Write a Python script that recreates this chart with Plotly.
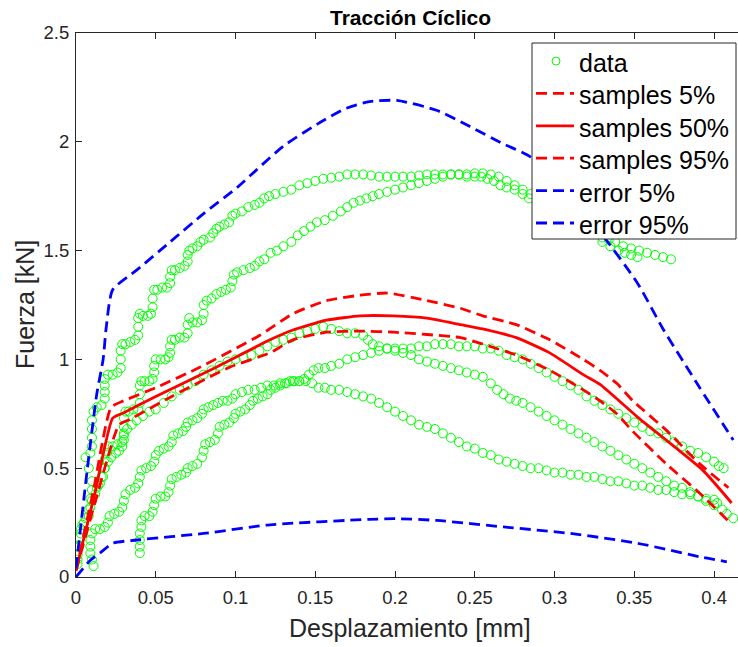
import plotly.graph_objects as go

# ---------------- data ----------------
# upper specimen, first curve
c1_x = [0.001, 0.002, 0.003, 0.005, 0.008, 0.009, 0.009, 0.010, 0.010, 0.008, 0.006, 0.009, 0.010, 0.010, 0.010,
        0.010, 0.011, 0.013, 0.016, 0.018, 0.018, 0.018, 0.018, 0.020, 0.023, 0.026, 0.028, 0.028, 0.028, 0.029,
        0.031, 0.034, 0.037, 0.039, 0.039, 0.039, 0.040, 0.042, 0.045, 0.047, 0.048, 0.048, 0.049, 0.051, 0.054,
        0.057, 0.059, 0.059, 0.060, 0.062, 0.065, 0.068, 0.070, 0.070, 0.071, 0.073, 0.076, 0.078, 0.080, 0.084,
        0.086, 0.088, 0.090, 0.093, 0.096, 0.098, 0.100, 0.104, 0.108, 0.112, 0.115, 0.118, 0.121, 0.125, 0.130,
        0.135, 0.140, 0.145, 0.150, 0.155, 0.160, 0.165, 0.170, 0.175, 0.180, 0.185, 0.190, 0.195, 0.200, 0.205,
        0.210, 0.215, 0.220, 0.225, 0.230, 0.235, 0.240, 0.245, 0.250, 0.255, 0.260, 0.265, 0.270, 0.275, 0.280,
        0.285, 0.290, 0.300, 0.310, 0.320, 0.330, 0.334, 0.338, 0.343, 0.348, 0.353, 0.358, 0.363, 0.368, 0.373]
c1_y = [0.08, 0.14, 0.20, 0.25, 0.28, 0.32, 0.36, 0.40, 0.44, 0.50, 0.55, 0.57, 0.60, 0.64, 0.68,
        0.72, 0.76, 0.78, 0.79, 0.82, 0.85, 0.88, 0.91, 0.93, 0.93, 0.94, 0.96, 1.00, 1.04, 1.07,
        1.07, 1.08, 1.09, 1.11, 1.15, 1.19, 1.21, 1.20, 1.20, 1.21, 1.24, 1.28, 1.32, 1.32, 1.33,
        1.33, 1.35, 1.38, 1.41, 1.41, 1.42, 1.43, 1.45, 1.48, 1.50, 1.51, 1.52, 1.54, 1.55, 1.56,
        1.58, 1.60, 1.61, 1.62, 1.63, 1.66, 1.67, 1.68, 1.70, 1.71, 1.72, 1.74, 1.75, 1.76, 1.77,
        1.78, 1.80, 1.81, 1.82, 1.83, 1.835, 1.84, 1.85, 1.85, 1.85, 1.845, 1.84, 1.84, 1.84, 1.84,
        1.84, 1.845, 1.85, 1.85, 1.85, 1.85, 1.85, 1.85, 1.855, 1.855, 1.85, 1.84, 1.82, 1.80, 1.78,
        1.76, 1.74, 1.70, 1.66, 1.62, 1.56, 1.55, 1.54, 1.52, 1.51, 1.50, 1.49, 1.48, 1.47, 1.46]

# upper specimen, second curve
c2_x = [0.013, 0.015, 0.017, 0.018, 0.018, 0.019, 0.020, 0.023, 0.026, 0.029, 0.030, 0.030, 0.030, 0.031, 0.033,
        0.036, 0.039, 0.040, 0.040, 0.040, 0.041, 0.043, 0.046, 0.048, 0.049, 0.049, 0.050, 0.053, 0.056, 0.058,
        0.059, 0.059, 0.060, 0.062, 0.065, 0.068, 0.070, 0.070, 0.071, 0.073, 0.076, 0.079, 0.080, 0.080, 0.082,
        0.085, 0.088, 0.091, 0.094, 0.097, 0.098, 0.099, 0.101, 0.105, 0.109, 0.112, 0.115, 0.118, 0.122, 0.126,
        0.130, 0.135, 0.139, 0.143, 0.147, 0.151, 0.156, 0.161, 0.166, 0.170, 0.174, 0.178, 0.182, 0.186, 0.190,
        0.195, 0.200, 0.205, 0.210, 0.215, 0.220, 0.225, 0.230, 0.235, 0.240, 0.245, 0.250, 0.254, 0.258, 0.262,
        0.266, 0.270, 0.275, 0.280, 0.284, 0.290, 0.300, 0.310, 0.320, 0.330, 0.335, 0.340, 0.344, 0.348, 0.352]
c2_y = [0.41, 0.43, 0.46, 0.50, 0.54, 0.57, 0.60, 0.60, 0.61, 0.62, 0.65, 0.69, 0.73, 0.76, 0.76,
        0.77, 0.77, 0.80, 0.84, 0.88, 0.90, 0.90, 0.90, 0.91, 0.94, 0.97, 1.00, 1.00, 1.00, 1.01,
        1.03, 1.06, 1.09, 1.09, 1.10, 1.10, 1.12, 1.16, 1.19, 1.17, 1.17, 1.18, 1.21, 1.25, 1.27,
        1.28, 1.30, 1.31, 1.32, 1.33, 1.36, 1.39, 1.40, 1.41, 1.42, 1.43, 1.45, 1.46, 1.49, 1.50,
        1.52, 1.54, 1.57, 1.59, 1.61, 1.63, 1.64, 1.66, 1.68, 1.70, 1.72, 1.73, 1.74, 1.75, 1.76,
        1.77, 1.78, 1.79, 1.80, 1.81, 1.82, 1.83, 1.84, 1.85, 1.85, 1.84, 1.84, 1.84, 1.83, 1.82,
        1.80, 1.79, 1.78, 1.76, 1.74, 1.72, 1.68, 1.64, 1.59, 1.54, 1.52, 1.50, 1.49, 1.48, 1.47]

# middle specimen (peak about 1.15 kN)
c3_x = [0.001, 0.001, 0.002, 0.002, 0.003, 0.004, 0.006, 0.008, 0.010, 0.012, 0.014, 0.016, 0.018, 0.020, 0.022,
        0.025, 0.027, 0.029, 0.030, 0.030, 0.032, 0.035, 0.038, 0.042, 0.046, 0.050, 0.055, 0.060, 0.065, 0.070,
        0.075, 0.080, 0.085, 0.090, 0.095, 0.100, 0.105, 0.110, 0.115, 0.120, 0.125, 0.130, 0.135, 0.140, 0.145,
        0.150, 0.155, 0.160, 0.165, 0.170, 0.175, 0.180, 0.183, 0.186, 0.190, 0.195, 0.200, 0.205, 0.210, 0.215,
        0.220, 0.225, 0.230, 0.235, 0.240, 0.245, 0.250, 0.255, 0.260, 0.264, 0.268, 0.272, 0.276, 0.280, 0.285,
        0.290, 0.295, 0.300, 0.305, 0.310, 0.315, 0.320, 0.325, 0.330, 0.335, 0.340, 0.345, 0.350, 0.355, 0.360,
        0.365, 0.370, 0.375, 0.380, 0.385, 0.390, 0.395, 0.400, 0.405, 0.408, 0.412]
c3_y = [0.06, 0.10, 0.14, 0.18, 0.22, 0.24, 0.27, 0.31, 0.35, 0.38, 0.42, 0.46, 0.50, 0.53, 0.55,
        0.57, 0.58, 0.60, 0.63, 0.66, 0.68, 0.70, 0.72, 0.74, 0.76, 0.77, 0.80, 0.83, 0.86, 0.88,
        0.90, 0.93, 0.95, 0.97, 0.99, 1.00, 1.01, 1.02, 1.04, 1.06, 1.08, 1.09, 1.10, 1.12, 1.13,
        1.14, 1.15, 1.14, 1.13, 1.12, 1.12, 1.11, 1.09, 1.07, 1.06, 1.05, 1.04, 1.03, 1.02, 1.00,
        0.99, 0.98, 0.97, 0.96, 0.95, 0.94, 0.93, 0.92, 0.89, 0.86, 0.84, 0.82, 0.81, 0.80, 0.78,
        0.76, 0.74, 0.72, 0.70, 0.68, 0.66, 0.64, 0.62, 0.60, 0.58, 0.56, 0.54, 0.52, 0.50, 0.48,
        0.46, 0.44, 0.42, 0.41, 0.39, 0.37, 0.35, 0.33, 0.31, 0.29, 0.27]

# lower stepped specimen (starts at 0.04 mm)
c4_x = [0.040, 0.040, 0.040, 0.040, 0.041, 0.041, 0.043, 0.046, 0.048, 0.049, 0.050, 0.053, 0.056, 0.058, 0.059,
        0.060, 0.063, 0.066, 0.069, 0.070, 0.073, 0.076, 0.079, 0.080, 0.081, 0.084, 0.087, 0.089, 0.090, 0.093,
        0.096, 0.099, 0.100, 0.103, 0.106, 0.109, 0.111, 0.114, 0.117, 0.120, 0.122, 0.125, 0.128, 0.131, 0.134,
        0.137, 0.140, 0.143, 0.146, 0.149, 0.152, 0.156, 0.160, 0.165, 0.170, 0.175, 0.180, 0.185, 0.190, 0.195,
        0.200, 0.205, 0.210, 0.215, 0.220, 0.225, 0.230, 0.235, 0.240, 0.245, 0.250, 0.255, 0.260, 0.265, 0.270,
        0.275, 0.280, 0.285, 0.290, 0.295, 0.300, 0.305, 0.310, 0.315, 0.320, 0.325, 0.330, 0.335, 0.340, 0.345,
        0.350, 0.355, 0.360, 0.365, 0.370, 0.375, 0.380, 0.385, 0.390, 0.395, 0.400, 0.403, 0.406]
c4_y = [0.11, 0.14, 0.17, 0.20, 0.23, 0.26, 0.28, 0.28, 0.30, 0.33, 0.36, 0.37, 0.37, 0.39, 0.42,
        0.45, 0.46, 0.47, 0.48, 0.50, 0.51, 0.52, 0.55, 0.58, 0.61, 0.62, 0.63, 0.66, 0.69, 0.70,
        0.71, 0.73, 0.75, 0.76, 0.77, 0.79, 0.81, 0.82, 0.83, 0.84, 0.86, 0.87, 0.88, 0.89, 0.90,
        0.90, 0.90, 0.91, 0.93, 0.95, 0.96, 0.96, 0.97, 0.98, 1.00, 1.01, 1.02, 1.03, 1.04, 1.05,
        1.05, 1.05, 1.05, 1.06, 1.06, 1.07, 1.07, 1.07, 1.06, 1.06, 1.06, 1.05, 1.05, 1.04, 1.02,
        1.01, 1.00, 0.98, 0.96, 0.94, 0.92, 0.90, 0.88, 0.86, 0.83, 0.81, 0.79, 0.77, 0.75, 0.73,
        0.71, 0.69, 0.67, 0.66, 0.64, 0.62, 0.60, 0.58, 0.57, 0.55, 0.53, 0.51, 0.50]

# lowest specimen (peak about 0.9 kN)
c5_x = [0.011, 0.010, 0.009, 0.009, 0.009, 0.010, 0.012, 0.015, 0.018, 0.020, 0.021, 0.024, 0.027, 0.029, 0.030,
        0.031, 0.034, 0.037, 0.039, 0.040, 0.041, 0.044, 0.047, 0.049, 0.050, 0.052, 0.055, 0.058, 0.060, 0.061,
        0.064, 0.067, 0.069, 0.070, 0.073, 0.076, 0.079, 0.080, 0.083, 0.086, 0.089, 0.092, 0.095, 0.098, 0.100,
        0.104, 0.108, 0.112, 0.116, 0.120, 0.124, 0.128, 0.132, 0.136, 0.140, 0.144, 0.148, 0.152, 0.156, 0.160,
        0.165, 0.170, 0.175, 0.180, 0.185, 0.190, 0.195, 0.200, 0.205, 0.210, 0.215, 0.220, 0.225, 0.230, 0.235,
        0.240, 0.245, 0.250, 0.255, 0.260, 0.265, 0.270, 0.275, 0.280, 0.285, 0.290, 0.295, 0.300, 0.305, 0.310,
        0.315, 0.320, 0.325, 0.330, 0.335, 0.340, 0.345, 0.350, 0.355, 0.360, 0.365, 0.370, 0.375, 0.380, 0.385,
        0.390, 0.395, 0.400, 0.402]
c5_y = [0.05, 0.08, 0.11, 0.14, 0.17, 0.20, 0.22, 0.22, 0.23, 0.25, 0.28, 0.29, 0.30, 0.32, 0.35,
        0.38, 0.40, 0.41, 0.43, 0.46, 0.49, 0.50, 0.51, 0.53, 0.56, 0.58, 0.59, 0.60, 0.62, 0.65,
        0.66, 0.67, 0.69, 0.71, 0.72, 0.73, 0.75, 0.77, 0.78, 0.79, 0.80, 0.81, 0.81, 0.82, 0.84,
        0.85, 0.86, 0.86, 0.87, 0.88, 0.88, 0.89, 0.89, 0.90, 0.90, 0.90, 0.89, 0.87, 0.87, 0.86,
        0.86, 0.85, 0.84, 0.83, 0.82, 0.80, 0.78, 0.76, 0.74, 0.72, 0.70, 0.69, 0.68, 0.66, 0.64,
        0.62, 0.60, 0.59, 0.57, 0.56, 0.54, 0.53, 0.52, 0.51, 0.50, 0.50, 0.49, 0.48, 0.48, 0.47,
        0.47, 0.46, 0.46, 0.45, 0.44, 0.44, 0.43, 0.42, 0.42, 0.41, 0.40, 0.40, 0.39, 0.38, 0.38,
        0.37, 0.36, 0.355, 0.34]

# fitted percentile curves
s50_x = [0.0, 0.012, 0.023, 0.030, 0.05, 0.084, 0.1216, 0.136, 0.157, 0.178, 0.199, 0.22, 0.241, 0.255, 0.276,
         0.297, 0.318, 0.3285, 0.352, 0.393, 0.411]
s50_y = [0.03, 0.39, 0.73, 0.755, 0.83, 0.95, 1.09, 1.135, 1.18, 1.20, 1.20, 1.19, 1.16, 1.14, 1.10,
         1.03, 0.93, 0.885, 0.735, 0.49, 0.34]
s95_x = [0.0, 0.011, 0.022, 0.030, 0.05, 0.078, 0.115, 0.136, 0.157, 0.178, 0.195, 0.22, 0.241, 0.255, 0.276,
         0.297, 0.318, 0.3285, 0.339, 0.349, 0.37, 0.391, 0.409]
s95_y = [0.03, 0.40, 0.78, 0.81, 0.87, 0.965, 1.11, 1.21, 1.27, 1.295, 1.305, 1.27, 1.235, 1.20, 1.16,
         1.09, 1.00, 0.95, 0.89, 0.81, 0.675, 0.52, 0.41]
s05_x = [0.0, 0.013, 0.027, 0.034, 0.06, 0.0966, 0.1216, 0.136, 0.157, 0.178, 0.199, 0.241, 0.255, 0.276, 0.297,
         0.318, 0.3285, 0.339, 0.349, 0.37, 0.391, 0.41]
s05_y = [0.03, 0.37, 0.70, 0.725, 0.83, 0.965, 1.03, 1.09, 1.125, 1.13, 1.125, 1.10, 1.07, 1.02, 0.95,
         0.86, 0.81, 0.75, 0.67, 0.52, 0.385, 0.25]

# error bands
e05_x = [0.0, 0.009, 0.015, 0.023, 0.038, 0.08, 0.1216, 0.184, 0.20, 0.226, 0.268, 0.31, 0.352, 0.393, 0.408]
e05_y = [0.0, 0.077, 0.11, 0.155, 0.17, 0.20, 0.24, 0.265, 0.268, 0.26, 0.23, 0.20, 0.155, 0.09, 0.07]
e95_x = [0.0, 0.007, 0.013, 0.017, 0.019, 0.023, 0.038, 0.059, 0.08, 0.101, 0.113, 0.13, 0.151, 0.168, 0.184,
         0.201, 0.226, 0.247, 0.268, 0.285, 0.3285, 0.352, 0.368, 0.391, 0.412]
e95_y = [0.04, 0.49, 0.84, 1.0, 1.15, 1.32, 1.41, 1.54, 1.67, 1.79, 1.87, 1.98, 2.08, 2.15, 2.185,
         2.19, 2.145, 2.07, 1.99, 1.93, 1.585, 1.35, 1.14, 0.87, 0.63]

x_ticks = [0, 0.05, 0.1, 0.15, 0.2, 0.25, 0.3, 0.35, 0.4]
x_tick_text = ["0", "0.05", "0.1", "0.15", "0.2", "0.25", "0.3", "0.35", "0.4"]
y_ticks = [0, 0.5, 1, 1.5, 2, 2.5]
y_tick_text = ["0", "0.5", "1", "1.5", "2", "2.5"]

legend_labels = ["data", "samples 5%", "samples 50%", "samples 95%", "error 5%", "error 95%"]

# ---------------- figure ----------------
FONT = "Liberation Sans, Arial, Helvetica, sans-serif"
AX = "#262626"
DASH = "11px,6px"
RED, BLUE, GREEN = "#ff0000", "#0000ff", "#00ff00"
LW = 2.8

W, H = 738, 647
ML, MR, MT, MB = 76, 0, 33, 70
PW, PH = W - ML - MR, H - MT - MB


def px(p):
    return (p - ML) / PW


def py(p):
    return (H - MB - p) / PH


data_x = c1_x + c2_x + c3_x + c4_x + c5_x
data_y = c1_y + c2_y + c3_y + c4_y + c5_y

fig = go.Figure()
fig.add_trace(go.Scatter(x=data_x, y=data_y, mode="markers", name=legend_labels[0],
                         marker=dict(symbol="circle-open", size=9, color=GREEN,
                                     line=dict(width=1, color=GREEN))))
fig.add_trace(go.Scatter(x=s05_x, y=s05_y, mode="lines", name=legend_labels[1],
                         line=dict(color=RED, width=LW, dash=DASH, shape="spline", smoothing=0.5)))
fig.add_trace(go.Scatter(x=s50_x, y=s50_y, mode="lines", name=legend_labels[2],
                         line=dict(color=RED, width=LW, shape="spline", smoothing=0.5)))
fig.add_trace(go.Scatter(x=s95_x, y=s95_y, mode="lines", name=legend_labels[3],
                         line=dict(color=RED, width=LW, dash=DASH, shape="spline", smoothing=0.5)))
fig.add_trace(go.Scatter(x=e05_x, y=e05_y, mode="lines", name=legend_labels[4],
                         line=dict(color=BLUE, width=LW, dash=DASH, shape="spline", smoothing=0.6)))
fig.add_trace(go.Scatter(x=e95_x, y=e95_y, mode="lines", name=legend_labels[5],
                         line=dict(color=BLUE, width=LW, dash=DASH, shape="spline", smoothing=0.6)))

# legend box drawn in the MATLAB style (fixed row pitch)
shapes = [dict(type="rect", xref="paper", yref="paper", layer="above",
               x0=px(532), x1=px(736), y0=py(239), y1=py(43),
               fillcolor="white", line=dict(color=AX, width=1))]
annotations = []
row_y = [63, 95.4, 127.8, 160.2, 192.6, 225]
styles = [None, (RED, DASH), (RED, "solid"), (RED, DASH), (BLUE, DASH), (BLUE, DASH)]
for lab, ry, st in zip(legend_labels, row_y, styles):
    if st is None:
        shapes.append(dict(type="circle", xref="paper", yref="paper", layer="above",
                           x0=px(552), x1=px(560), y0=py(ry + 2), y1=py(ry - 6),
                           line=dict(color=GREEN, width=1)))
    else:
        shapes.append(dict(type="line", xref="paper", yref="paper", layer="above",
                           x0=px(536), x1=px(574), y0=py(ry - 2), y1=py(ry - 2),
                           line=dict(color=st[0], width=LW, dash=st[1])))
    annotations.append(dict(text=lab, xref="paper", yref="paper", x=px(577), y=py(ry),
                            xanchor="left", yanchor="middle", showarrow=False,
                            font=dict(family=FONT, size=25, color="black")))

annotations += [
    dict(text="<b>Tracción Cíclico</b>", xref="paper", yref="paper", x=px(411), y=py(17),
         xanchor="center", yanchor="middle", showarrow=False,
         font=dict(family=FONT, size=21, color="black")),
    dict(text="Desplazamiento [mm]", xref="paper", yref="paper", x=px(410), y=py(628),
         xanchor="center", yanchor="middle", showarrow=False,
         font=dict(family=FONT, size=25, color=AX)),
    dict(text="Fuerza [kN]", xref="paper", yref="paper", x=px(25), y=py(305),
         xanchor="center", yanchor="middle", showarrow=False, textangle=-90,
         font=dict(family=FONT, size=25, color=AX)),
]

fig.update_layout(
    width=W, height=H,
    margin=dict(l=ML, r=MR, t=MT, b=MB),
    paper_bgcolor="white", plot_bgcolor="white",
    font=dict(family=FONT, color=AX),
    showlegend=False,
    xaxis=dict(range=[0, 0.415], tickvals=x_ticks, ticktext=x_tick_text,
               showline=True, linecolor=AX, linewidth=1, mirror="ticks",
               ticks="inside", ticklen=6, tickcolor=AX, showgrid=False, zeroline=False,
               ticklabelstandoff=4,
               tickfont=dict(family=FONT, size=18.5, color=AX)),
    yaxis=dict(range=[0, 2.5], tickvals=y_ticks, ticktext=y_tick_text,
               showline=True, linecolor=AX, linewidth=1, mirror=False,
               ticks="inside", ticklen=6, tickcolor=AX, showgrid=False, zeroline=False,
               ticklabelstandoff=2,
               tickfont=dict(family=FONT, size=18.5, color=AX)),
    shapes=shapes,
    annotations=annotations,
)

fig.write_html("out.html")
